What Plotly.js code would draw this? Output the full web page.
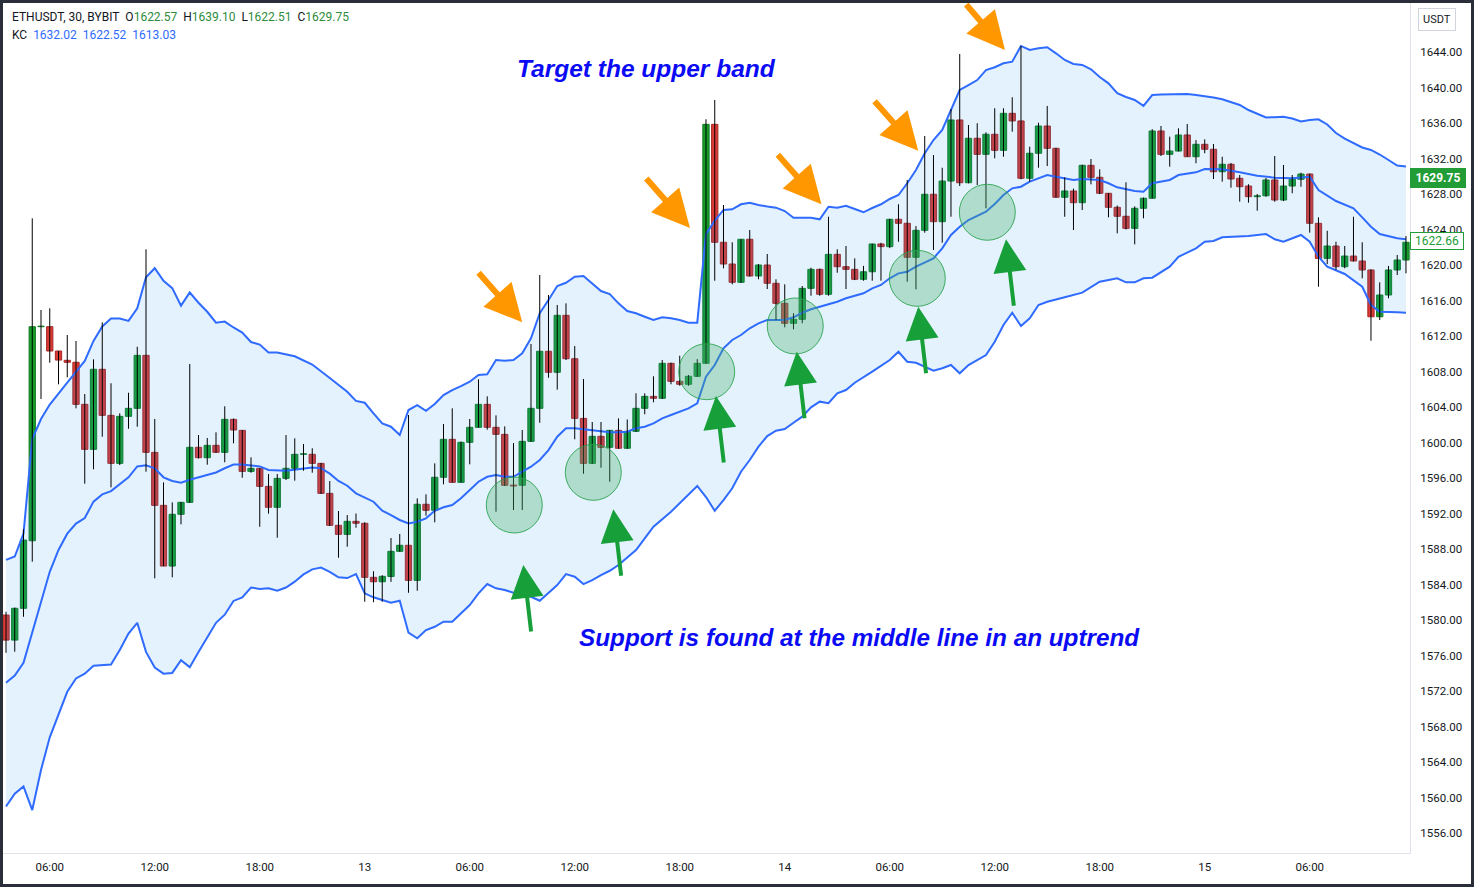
<!DOCTYPE html>
<html><head><meta charset="utf-8">
<script src="https://cdn.plot.ly/plotly-3.0.1.min.js"></script>
<style>
html,body{margin:0;padding:0;background:#2a2e39;width:1474px;height:887px;overflow:hidden;}
#chart{position:absolute;left:3px;top:3px;width:1468px;height:881px;background:#fff;}
</style></head><body><div id="chart"></div>
<script>
// ---------- data (ETHUSDT 30m, BYBIT) ----------
const symbolInfo = 'ETHUSDT, 30, BYBIT';
const lastBarLabels = ['O', 'H', 'L', 'C'];
const lastBarValues = ['1622.57', '1639.10', '1622.51', '1629.75'];
const kcLegendValues = ['1632.02', '1622.52', '1613.03'];
const barMinutes = 30;

const candleOpen = [
1580.56,1577.74,1581.32,1588.93,1613.05,1613.05,1610.31,1609.26,1609.04,1604.3,
1599.23,1608.25,1603.06,1597.65,1602.95,1603.85,1609.82,1598.89,1592.92,1586.08,
1591.91,1593.26,1599.46,1598.29,1599.68,1598.89,1602.61,1601.37,1596.75,1597.09,
1595.06,1592.7,1595.96,1597.09,1598.67,1598.67,1597.65,1594.27,1590.67,1589.65,
1591.12,1590.9,1584.81,1584.31,1584.9,1587.74,1588.42,1584.47,1593.04,1592.36,
1596.08,1600.36,1595.51,1600.02,1601.71,1604.3,1601.71,1600.92,1595.2,1595.18,
1600.13,1603.85,1610.28,1607.91,1614.33,1609.44,1602.72,1597.65,1600.7,1599.46,
1601.37,1599.35,1601.26,1603.85,1605.2,1604.98,1608.92,1606.89,1606.56,1607.46,
1608.92,1635.85,1622.56,1620.11,1618.05,1622.9,1618.76,1620.0,1617.94,1615.68,
1613.43,1613.88,1617.37,1619.51,1616.7,1621.2,1619.81,1619.51,1618.39,1619.24,
1622.37,1622.07,1625.15,1624.7,1620.87,1623.91,1627.97,1624.88,1629.46,1636.34,
1629.27,1634.28,1632.47,1634.73,1632.92,1637.09,1636.23,1629.77,1632.59,1635.66,
1633.15,1627.63,1628.34,1627.02,1631.23,1629.88,1628.08,1626.5,1625.49,1624.13,
1626.39,1627.52,1635.1,1632.47,1632.84,1634.65,1632.2,1633.6,1633.04,1630.51,
1631.35,1629.77,1628.9,1627.7,1627.8,1629.58,1627.32,1628.9,1629.66,1630.25,
1624.7,1620.75,1622.14,1619.81,1621.01,1620.45,1619.44,1614.17,1616.62,1619.44,
1620.56];
const candleHigh = [
1580.93,1581.4,1590.22,1625.26,1614.93,1615.12,1610.31,1612.11,1611.44,1605.46,
1609.37,1613.54,1606.67,1603.29,1605.61,1610.79,1621.77,1602.65,1595.51,1593.26,
1593.3,1608.84,1600.84,1600.51,1601.15,1604.08,1602.7,1601.4,1598.33,1597.1,
1596.45,1596.45,1600.84,1600.47,1599.83,1599.35,1597.7,1595.66,1592.28,1591.83,
1592.0,1591.0,1585.49,1585.05,1589.24,1589.69,1603.1,1593.71,1594.16,1597.65,
1602.08,1603.85,1600.1,1602.65,1607.12,1605.2,1603.06,1601.82,1599.94,1601.41,
1611.1,1618.87,1616.62,1615.49,1615.68,1610.87,1607.15,1602.31,1602.31,1601.4,
1602.72,1602.6,1605.54,1605.54,1607.46,1609.29,1609.0,1609.78,1607.6,1609.4,
1636.42,1638.59,1626.76,1622.56,1622.9,1623.94,1620.1,1621.24,1618.39,1617.82,
1614.56,1617.63,1619.7,1619.6,1625.44,1621.77,1622.14,1620.75,1619.9,1622.4,
1622.5,1625.2,1626.84,1629.58,1624.39,1634.53,1632.39,1630.96,1637.58,1643.77,
1635.77,1635.97,1634.95,1637.66,1637.66,1638.9,1644.68,1633.33,1636.03,1637.92,
1633.2,1629.88,1628.6,1631.3,1631.94,1630.78,1628.1,1626.7,1629.32,1626.6,
1627.6,1635.3,1635.66,1634.46,1635.4,1635.89,1634.08,1634.16,1633.63,1632.2,
1631.5,1630.14,1629.1,1628.0,1629.8,1632.28,1631.27,1630.14,1630.4,1630.3,
1625.37,1623.86,1622.62,1622.14,1625.44,1622.56,1619.5,1618.05,1619.89,1621.13,
1623.27];
const candleLow = [
1576.31,1576.43,1580.37,1586.57,1604.9,1608.99,1606.56,1607.35,1603.85,1595.36,
1596.98,1600.65,1594.95,1597.46,1601.55,1601.78,1596.71,1584.7,1586.08,1584.81,
1590.78,1593.2,1598.2,1597.5,1598.85,1597.77,1599.91,1596.03,1596.6,1590.51,
1591.98,1589.27,1595.77,1595.7,1596.82,1596.6,1594.2,1590.6,1587.02,1588.26,
1590.4,1582.06,1582.0,1582.06,1584.3,1587.7,1583.07,1583.3,1591.75,1591.01,
1595.29,1595.5,1595.5,1597.54,1601.7,1601.44,1592.2,1595.1,1592.39,1592.39,
1600.1,1602.23,1607.3,1605.95,1609.3,1600.36,1596.48,1597.6,1597.16,1595.58,
1599.3,1599.3,1601.2,1603.18,1604.53,1604.9,1606.56,1606.4,1606.4,1607.4,
1608.9,1618.23,1619.63,1617.82,1618.0,1618.7,1618.39,1617.29,1613.8,1612.98,
1612.75,1613.43,1616.54,1616.54,1616.54,1619.13,1617.29,1618.3,1618.23,1618.23,
1618.23,1621.9,1622.62,1618.12,1617.26,1623.64,1621.69,1622.51,1625.44,1628.9,
1629.2,1629.01,1626.39,1632.02,1632.2,1635.02,1629.66,1629.39,1630.96,1631.15,
1627.6,1625.44,1623.94,1626.2,1629.09,1628.0,1625.37,1623.57,1624.0,1622.33,
1625.26,1627.5,1632.28,1631.08,1632.8,1632.2,1631.46,1632.59,1629.69,1629.39,
1628.71,1627.13,1627.02,1626.12,1627.7,1627.13,1627.2,1628.08,1628.82,1623.64,
1617.55,1620.11,1619.44,1619.63,1620.4,1618.5,1611.47,1613.8,1616.25,1618.87,
1619.06];
const candleClose = [
1577.74,1581.32,1589.01,1613.05,1613.1,1610.31,1609.29,1609.04,1604.3,1599.23,
1608.25,1603.06,1597.65,1602.95,1603.85,1609.82,1598.89,1592.92,1586.08,1591.91,
1593.26,1599.46,1598.29,1599.68,1598.89,1602.61,1601.41,1596.75,1597.09,1595.06,
1592.7,1595.96,1597.09,1598.67,1598.7,1597.65,1594.27,1590.67,1589.65,1591.12,
1590.9,1584.81,1584.31,1584.92,1587.74,1588.42,1584.47,1593.04,1592.36,1596.08,
1600.36,1595.51,1600.02,1601.71,1604.3,1601.71,1600.92,1595.18,1595.1,1600.13,
1603.85,1610.28,1607.91,1614.33,1609.44,1602.72,1597.65,1600.7,1599.46,1601.37,
1599.35,1601.26,1603.85,1605.2,1604.98,1608.92,1606.89,1606.56,1607.46,1608.92,
1635.85,1622.56,1620.11,1618.05,1622.9,1618.76,1620.0,1617.94,1615.68,1613.43,
1613.88,1617.37,1619.51,1616.7,1621.2,1619.81,1619.51,1618.39,1619.24,1622.37,
1622.07,1625.15,1624.7,1620.87,1623.91,1627.97,1624.88,1629.46,1636.34,1629.27,
1634.28,1632.47,1634.73,1632.92,1637.09,1636.23,1629.77,1632.59,1635.66,1633.15,
1627.63,1628.34,1627.02,1631.23,1629.88,1628.08,1626.5,1625.49,1624.13,1626.39,
1627.52,1635.1,1632.47,1632.84,1634.65,1632.2,1633.6,1633.04,1630.51,1631.35,
1629.69,1628.82,1627.7,1627.8,1629.58,1627.32,1628.9,1629.66,1630.25,1624.7,
1620.75,1622.14,1619.81,1621.01,1620.45,1619.44,1614.17,1616.62,1619.44,1620.56,
1622.56];

// Keltner Channel lines (null = not read at that bar)
const kcUpper = [
1586.78,1587.15,1589.73,1600.39,1602.65,1604.28,null,1606.74,null,1609.19,
1611.45,1613.08,1613.98,1613.98,1613.7,1615.13,1618.61,1619.64,1618.21,1617.39,
1615.42,1616.9,1615.75,1614.73,1613.5,1613.62,1612.96,1612.39,1611.32,1611.04,
1610.14,1610.14,null,1609.72,null,1608.79,null,1607.27,null,1605.71,
1604.69,1604.48,1603.29,1602.16,1601.78,1600.84,1603.66,1604.22,1603.58,1604.34,
1605.35,1605.91,1606.36,1606.85,1607.6,1607.68,1609.29,1609.22,1609.29,1610.05,
1611.74,1614.56,1616.06,1617.63,1618.0,1618.68,1618.76,1617.94,1617.07,1616.73,
1615.68,1614.82,1614.56,1614.17,1613.8,1614.11,1614.0,1613.8,1613.5,1613.5,
1623.5,1625.0,1626.2,1626.28,1626.84,1627.02,1626.76,1626.59,1626.46,1626.08,
1625.33,1625.33,1625.33,1625.15,1626.57,1626.46,1626.68,1626.31,1625.94,1626.42,
1626.84,1627.44,1627.89,1629.21,1630.7,1632.59,1634.08,1635.21,1637.54,1639.72,
1640.28,1640.84,1641.97,1642.28,1642.73,1642.91,1644.68,1644.23,1644.42,1644.53,
1643.85,1643.1,1642.65,1642.54,1642.05,1641.18,1640.47,1639.35,1638.93,1638.59,
1637.92,1639.15,1639.21,1639.23,1639.25,1639.27,1639.15,1639.04,1638.87,1638.67,
1638.37,1638.03,1637.46,1637.01,1636.62,1636.65,1636.71,1636.51,1636.17,1636.34,
1636.42,1635.83,1634.87,1634.25,1633.75,1633.24,1632.96,1632.45,1631.83,1631.21,
1631.1];
const kcMiddle = [
1572.93,1573.74,1575.19,1578.67,1581.95,1585.43,1587.89,1589.73,1590.87,1591.49,
1593.34,1594.15,1594.52,1595.27,1596.08,1597.31,1597.43,1597.1,1596.08,1595.67,
1595.47,1595.8,1596.08,1596.4,1596.62,1597.1,1597.52,1597.52,null,1597.31,
1596.9,null,1596.82,null,null,1597.18,1597.1,1596.49,1595.67,1595.13,
1594.27,null,1593.33,1592.31,1591.83,1591.27,1590.89,1591.07,1591.46,1592.31,
1592.7,1592.96,1593.71,1594.65,1595.58,1596.14,1596.34,1596.14,1596.14,1596.71,
1597.27,1598.03,1599.15,1600.65,1601.6,1601.6,1601.49,1601.33,1601.22,1601.15,
1601.15,1601.22,1601.6,1601.78,1602.16,1602.72,1603.1,1603.47,1603.85,1604.42,
1607.41,1608.73,1610.61,1611.55,1612.11,1612.87,1613.43,1613.8,null,1613.8,
1614.11,1614.62,1615.01,1615.3,null,1615.86,1616.25,1616.51,1616.81,1617.37,
1617.75,1618.5,1619.06,1619.24,1619.81,null,1620.75,1621.88,1623.38,1624.31,
1625.07,null,1626.0,1626.87,1627.89,1628.64,1628.82,1629.39,null,1630.14,
1629.95,1629.77,1629.58,1629.69,null,1629.58,1629.21,1628.75,null,1628.34,
1628.26,1629.21,null,1629.58,1630.14,null,1630.44,1630.82,null,1630.78,
null,1630.44,null,1630.06,null,1629.84,null,1629.77,null,1629.95,
1628.45,null,1627.21,null,1626.39,1625.37,1624.31,1623.49,null,1623.01,
1622.9];
const kcLower = [
1558.99,1560.44,1561.25,1558.59,1563.1,1566.78,null,1571.91,1573.42,1573.96,
1574.86,null,1574.98,1576.62,1578.47,1579.69,1576.41,1574.65,1573.96,1574.04,
1575.47,1574.69,1576.41,1578.05,1579.69,1580.6,1582.15,1582.56,1583.66,1583.5,
1583.58,1583.3,1583.66,1584.32,1585.14,1585.71,1585.91,1585.43,1584.81,1584.73,
1585.18,1583.01,1582.56,1582.25,1581.95,1582.17,1578.57,1577.94,1578.87,1579.24,
1579.81,1579.81,1580.75,1581.69,1583.01,1584.05,1583.57,1583.38,1583.07,1582.81,
1582.62,1582.17,1583.01,1583.94,1585.18,1584.88,1584.05,1584.5,1585.07,1585.55,
1586.2,null,1587.89,1589.2,1590.51,null,1592.2,1593.15,1594.08,1595.1,
1593.86,1592.31,1593.52,1594.84,1596.71,1598.03,1599.53,1600.73,1601.33,1601.52,
1602.23,1602.91,1603.96,1604.6,1604.42,1605.54,1605.91,1606.74,null,1607.98,
1608.62,1609.29,1610.23,1609.1,1608.99,1608.54,1608.09,1608.36,1608.73,1607.8,
1608.73,null,1609.86,1611.36,1613.24,1614.62,1613.13,1613.99,1615.49,1615.86,
null,1616.36,null,1616.88,null,1618.12,null,1618.5,1618.05,1618.05,
1618.5,1618.57,null,1619.81,1620.93,null,1621.88,1622.62,1622.7,1623.12,
null,null,1623.27,null,1623.49,1622.9,1622.62,null,1623.38,1622.62,
1620.93,1619.81,null,1618.99,null,1617.55,1615.49,1614.74,null,1614.67,
1614.63];

// axis ticks
const tickTimes = ['2023-09-12 06:00','2023-09-12 12:00','2023-09-12 18:00','2023-09-13 00:00',
  '2023-09-13 06:00','2023-09-13 12:00','2023-09-13 18:00','2023-09-14 00:00',
  '2023-09-14 06:00','2023-09-14 12:00','2023-09-14 18:00','2023-09-15 00:00','2023-09-15 06:00'];
const tickLabels = ['06:00','12:00','18:00','13','06:00','12:00','18:00','14','06:00','12:00','18:00','15','06:00'];
const priceTicks = [1556,1560,1564,1568,1572,1576,1580,1584,1588,1592,1596,1600,
  1604,1608,1612,1616,1620,1624,1628,1632,1636,1640,1644];

// price-scale markers
const lastPrice = 1629.75;
const kcAxisValue = 1622.66;

// annotations: bar position (bars from first bar) and price
const touchBar = [58.09, 67.12, 80.08, 90.2, 104.15, 112.15];
const touchPrice = [1592.96, 1596.64, 1607.98, 1613.13, 1618.5, 1625.94];
const upperArrowBar = [59.0, 78.17, 93.2, 104.26, 114.17];
const upperArrowPrice = [1613.54, 1624.17, 1626.84, 1632.88, 1644.23];
const supportArrowBar = [59.12, 69.41, 81.14, 90.37, 104.26, 114.29];
const supportArrowPrice = [1586.2, 1592.47, 1605.24, 1610.23, 1615.3, 1622.9];
const titleTop = 'Target the upper band';
const titleBottom = 'Support is found at the middle line in an uptrend';

// ---------- build ----------
const t0 = Date.UTC(2023, 8, 12, 3, 30);
const barMs = barMinutes * 60000;
const barTime = k => t0 + k * barMs;
const times = candleOpen.map((_, i) => barTime(i));

function line(vals) {
  const xs = [], ys = [];
  vals.forEach((v, i) => { if (v !== null) { xs.push(times[i]); ys.push(v); } });
  return { xs, ys };
}
const lo = line(kcLower), up = line(kcUpper), mid = line(kcMiddle);
const BLUE = '#2f6bff';

const wickX = [], wickY = [];
times.forEach((t, i) => { wickX.push(t, t, null); wickY.push(candleLow[i], candleHigh[i], null); });

const isUp = candleOpen.map((o, i) => candleClose[i] >= o);
const bodyBase = candleOpen.map((o, i) => Math.min(o, candleClose[i]));
const bodyLen = candleOpen.map((o, i) => Math.max(Math.abs(candleClose[i] - o), 0.06));

const traces = [
  { type: 'scatter', mode: 'lines', x: lo.xs, y: lo.ys, line: { color: BLUE, width: 2 }, hoverinfo: 'skip' },
  { type: 'scatter', mode: 'lines', x: up.xs, y: up.ys, line: { color: BLUE, width: 2 }, fill: 'tonexty',
    fillcolor: 'rgba(33,150,243,0.12)', hoverinfo: 'skip' },
  { type: 'scatter', mode: 'lines', x: mid.xs, y: mid.ys, line: { color: BLUE, width: 2 }, hoverinfo: 'skip' },
  { type: 'scatter', mode: 'lines', x: wickX, y: wickY, line: { color: '#000000', width: 1 }, hoverinfo: 'skip' },
  { type: 'bar', x: times, base: bodyBase, y: bodyLen, width: 0.72 * barMs,
    marker: { color: isUp.map(u => u ? '#169e2b' : '#dc3a35'),
      line: { color: isUp.map(u => u ? '#137a22' : '#a52824'), width: 1 } },
    hoverinfo: 'skip' },
  { type: 'scatter', mode: 'markers', x: touchBar.map(barTime), y: touchPrice,
    marker: { size: 56, color: 'rgba(70,175,110,0.33)', line: { color: 'rgba(35,160,70,0.85)', width: 1 } },
    hoverinfo: 'skip' }
];

const ann = [];
ann.push({ xref: 'paper', yref: 'paper', x: 0, y: 1, xanchor: 'left', yanchor: 'middle', xshift: 7, yshift: -14,
  showarrow: false, font: { family: 'Roboto', size: 12, color: '#131722' },
  text: symbolInfo + lastBarLabels.map((l, i) => '\u00a0\u00a0' + l + '<span style="color:#2e8b3c">' + lastBarValues[i] + '</span>').join('') });
ann.push({ xref: 'paper', yref: 'paper', x: 0, y: 1, xanchor: 'left', yanchor: 'middle', xshift: 7, yshift: -32,
  showarrow: false, font: { family: 'Roboto', size: 12, color: '#131722' },
  text: 'KC' + kcLegendValues.map(v => '\u00a0\u00a0<span style="color:' + BLUE + '">' + v + '</span>').join('') });
ann.push({ xref: 'paper', yref: 'paper', x: 0.4577, y: 0.9224, xanchor: 'center', yanchor: 'middle', showarrow: false,
  font: { family: 'Liberation Sans', size: 24.5, color: '#0a0af5' },
  text: '<b><i>' + titleTop + '</i></b>' });
ann.push({ xref: 'paper', yref: 'paper', x: 0.6084, y: 0.2541, xanchor: 'center', yanchor: 'middle', showarrow: false,
  font: { family: 'Liberation Sans', size: 24.3, color: '#0a0af5' },
  text: '<b><i>' + titleBottom + '</i></b>' });
upperArrowBar.forEach((b, i) => ann.push({ x: barTime(b), y: upperArrowPrice[i], xref: 'x', yref: 'y',
  showarrow: true, ax: i === 4 ? -40 : -45, ay: i === 4 ? -47 : -51, arrowcolor: '#ff9800',
  arrowwidth: 6, arrowhead: 2, arrowsize: 1.25, standoff: 0, text: '' }));
supportArrowBar.forEach((b, i) => ann.push({ x: barTime(b), y: supportArrowPrice[i], xref: 'x', yref: 'y',
  showarrow: true, ax: 8, ay: 68, arrowcolor: '#17a03a', arrowwidth: 4, arrowhead: 2, arrowsize: 1.65,
  standoff: 0, text: '' }));
ann.push({ xref: 'paper', yref: 'y', x: 1, y: lastPrice, xanchor: 'left', yanchor: 'middle', xshift: 0,
  showarrow: false, bgcolor: '#229c36', bordercolor: '#229c36', borderpad: 2, width: 50,
  font: { family: 'Roboto', size: 12, color: '#ffffff' }, text: '<b>' + lastPrice.toFixed(2) + '</b>' });
ann.push({ xref: 'paper', yref: 'y', x: 1, y: kcAxisValue, xanchor: 'left', yanchor: 'middle', xshift: 0,
  showarrow: false, bgcolor: '#ffffff', bordercolor: '#229c36', borderwidth: 1, borderpad: 1, width: 50,
  font: { family: 'Roboto', size: 12, color: '#229c36' }, text: kcAxisValue.toFixed(2) });
ann.push({ xref: 'paper', yref: 'paper', x: 1, y: 1, xanchor: 'center', yanchor: 'middle', xshift: 27, yshift: -16,
  showarrow: false, bordercolor: '#d1d4dc', borderwidth: 1, borderpad: 4,
  font: { family: 'Roboto', size: 11, color: '#131722' }, text: 'USDT' });

const layout = {
  width: 1468, height: 881,
  margin: { l: 0, r: 61, t: 0, b: 31, pad: 0 },
  paper_bgcolor: '#ffffff', plot_bgcolor: '#ffffff',
  showlegend: false, hovermode: false, dragmode: false, barmode: 'overlay',
  xaxis: { type: 'date', range: [barTime(-0.343), barTime(160.46)],
    showgrid: false, zeroline: false, showline: true, linecolor: '#e0e3eb', linewidth: 1,
    tickmode: 'array', tickvals: tickTimes, ticktext: tickLabels, ticks: '', ticklabelstandoff: 3,
    tickfont: { family: 'Roboto', size: 11.5, color: '#131722' } },
  yaxis: { side: 'right', range: [1553.75, 1649.52], showgrid: false, zeroline: false,
    showline: true, linecolor: '#e0e3eb', linewidth: 1, tickmode: 'array', tickvals: priceTicks,
    ticktext: priceTicks.map(v => v.toFixed(2)),
    ticks: '', ticklabelstandoff: 7, tickfont: { family: 'Roboto', size: 11.5, color: '#131722' } },
  annotations: ann
};

Plotly.newPlot('chart', traces, layout, { staticPlot: true, displayModeBar: false });
</script>
</body></html>
